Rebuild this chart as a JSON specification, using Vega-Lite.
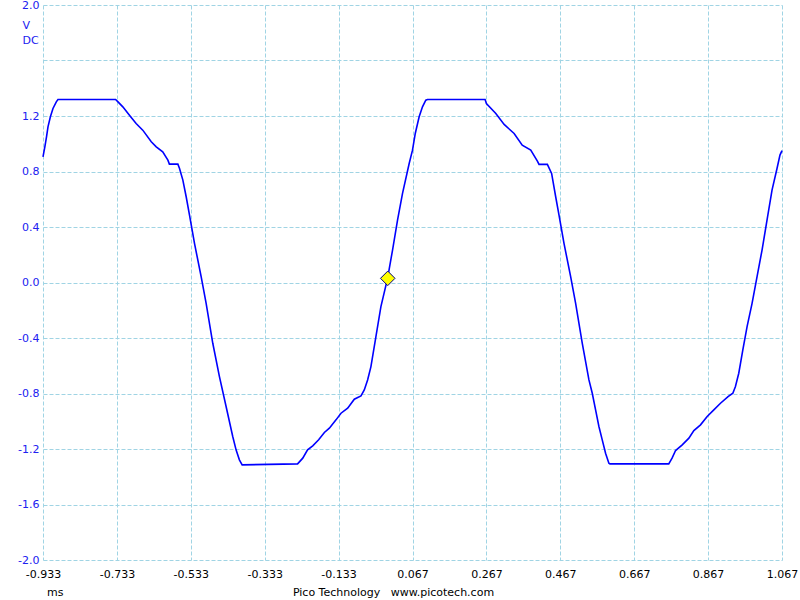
{
  "$schema": "https://vega.github.io/schema/vega-lite/v6.json",
  "width": 739,
  "height": 555,
  "autosize": "none",
  "padding": {"left": 43, "top": 5, "right": 18, "bottom": 40},
  "background": "white",
  "config": {"view": {"stroke": null}, "font": "DejaVu Sans"},
  "encoding": {
    "x": {
      "field": "t",
      "type": "quantitative",
      "scale": {"domain": [-0.933, 1.067], "nice": false, "zero": false},
      "axis": {
        "values": [-0.933, -0.733, -0.533, -0.333, -0.133, 0.067, 0.267, 0.467, 0.667, 0.867, 1.067],
        "grid": true,
        "gridColor": "#a0d4e4",
        "gridDash": [4, 2],
        "gridWidth": 1,
        "domain": false,
        "ticks": false,
        "tickSize": 0,
        "labelPadding": 8.5,
        "labelFont": "DejaVu Sans",
        "labelFontSize": 11,
        "labelColor": "#000000",
        "labelFlush": false,
        "labelOverlap": false,
        "labelExpr": "(datum.value < 0 ? '-' : '') + format(abs(datum.value), '.3f')",
        "title": "ms",
        "titleFont": "DejaVu Sans",
        "titleFontSize": 11,
        "titleFontWeight": "normal",
        "titleColor": "#000000",
        "titleX": 11.7,
        "titleY": 35,
        "titleAlign": "center",
        "titleBaseline": "alphabetic"
      }
    }
  },
  "layer": [
    {
      "data": {
        "values": [
          {"t": -0.933, "v": 0.905}, {"t": -0.928, "v": 0.978}, {"t": -0.9235, "v": 1.05}, {"t": -0.9195, "v": 1.122},
          {"t": -0.913, "v": 1.194}, {"t": -0.906, "v": 1.254}, {"t": -0.897, "v": 1.302}, {"t": -0.8925, "v": 1.319},
          {"t": -0.7365, "v": 1.319}, {"t": -0.73, "v": 1.302}, {"t": -0.717, "v": 1.266}, {"t": -0.699, "v": 1.206},
          {"t": -0.681, "v": 1.146}, {"t": -0.663, "v": 1.098}, {"t": -0.64, "v": 1.014}, {"t": -0.6265, "v": 0.978},
          {"t": -0.609, "v": 0.942}, {"t": -0.595, "v": 0.882}, {"t": -0.591, "v": 0.853}, {"t": -0.568, "v": 0.853},
          {"t": -0.5635, "v": 0.822}, {"t": -0.5545, "v": 0.738}, {"t": -0.5455, "v": 0.618}, {"t": -0.5365, "v": 0.486},
          {"t": -0.523, "v": 0.282}, {"t": -0.505, "v": 0.042}, {"t": -0.4915, "v": -0.15}, {"t": -0.4735, "v": -0.438},
          {"t": -0.4555, "v": -0.678}, {"t": -0.4375, "v": -0.894}, {"t": -0.4195, "v": -1.11}, {"t": -0.4105, "v": -1.206},
          {"t": -0.4015, "v": -1.278}, {"t": -0.394, "v": -1.314}, {"t": -0.244, "v": -1.307}, {"t": -0.23, "v": -1.266},
          {"t": -0.217, "v": -1.206}, {"t": -0.203, "v": -1.177}, {"t": -0.187, "v": -1.134}, {"t": -0.1715, "v": -1.081},
          {"t": -0.158, "v": -1.05}, {"t": -0.14, "v": -0.99}, {"t": -0.1265, "v": -0.942}, {"t": -0.1085, "v": -0.906},
          {"t": -0.0905, "v": -0.841}, {"t": -0.0725, "v": -0.817}, {"t": -0.0635, "v": -0.774}, {"t": -0.0545, "v": -0.702},
          {"t": -0.0455, "v": -0.606}, {"t": -0.032, "v": -0.39}, {"t": -0.0185, "v": -0.174}, {"t": -0.0005, "v": 0.03},
          {"t": 0.013, "v": 0.234}, {"t": 0.0265, "v": 0.45}, {"t": 0.04, "v": 0.642}, {"t": 0.058, "v": 0.858},
          {"t": 0.067, "v": 0.954}, {"t": 0.0745, "v": 1.074}, {"t": 0.085, "v": 1.194}, {"t": 0.094, "v": 1.266},
          {"t": 0.103, "v": 1.314}, {"t": 0.1075, "v": 1.319},
          {"t": 0.2635, "v": 1.319}, {"t": 0.267, "v": 1.29}, {"t": 0.2925, "v": 1.218}, {"t": 0.315, "v": 1.139},
          {"t": 0.342, "v": 1.074}, {"t": 0.364, "v": 0.99}, {"t": 0.387, "v": 0.954}, {"t": 0.405, "v": 0.875},
          {"t": 0.4095, "v": 0.851}, {"t": 0.432, "v": 0.851}, {"t": 0.4435, "v": 0.786}, {"t": 0.4545, "v": 0.618},
          {"t": 0.4635, "v": 0.486}, {"t": 0.477, "v": 0.282}, {"t": 0.495, "v": 0.042}, {"t": 0.5085, "v": -0.15},
          {"t": 0.5265, "v": -0.438}, {"t": 0.5445, "v": -0.702}, {"t": 0.5535, "v": -0.798}, {"t": 0.5625, "v": -0.918},
          {"t": 0.5715, "v": -1.038}, {"t": 0.5805, "v": -1.134}, {"t": 0.5895, "v": -1.23}, {"t": 0.5985, "v": -1.302},
          {"t": 0.6015, "v": -1.307}, {"t": 0.7605, "v": -1.307}, {"t": 0.7695, "v": -1.266}, {"t": 0.779, "v": -1.211},
          {"t": 0.797, "v": -1.17}, {"t": 0.815, "v": -1.122}, {"t": 0.8285, "v": -1.067}, {"t": 0.8465, "v": -1.026},
          {"t": 0.8645, "v": -0.966}, {"t": 0.8825, "v": -0.918}, {"t": 0.9005, "v": -0.87}, {"t": 0.921, "v": -0.822},
          {"t": 0.934, "v": -0.798}, {"t": 0.941, "v": -0.75}, {"t": 0.95, "v": -0.654}, {"t": 0.961, "v": -0.486},
          {"t": 0.9725, "v": -0.318}, {"t": 0.986, "v": -0.15}, {"t": 0.9995, "v": 0.042}, {"t": 1.013, "v": 0.234},
          {"t": 1.028, "v": 0.474}, {"t": 1.04, "v": 0.666}, {"t": 1.0535, "v": 0.822}, {"t": 1.0615, "v": 0.918},
          {"t": 1.067, "v": 0.95}
        ]
      },
      "mark": {"type": "line", "color": "#0000ff", "strokeWidth": 1.6},
      "encoding": {
        "y": {
          "field": "v",
          "type": "quantitative",
          "scale": {"domain": [-2, 2], "nice": false, "zero": false},
          "axis": {
            "values": [-2, -1.6, -1.2, -0.8, -0.4, 0, 0.4, 0.8, 1.2, 1.6, 2],
            "grid": true,
            "gridColor": "#a0d4e4",
            "gridDash": [4, 2],
            "gridWidth": 1,
            "domain": false,
            "ticks": false,
            "tickSize": 0,
            "labelPadding": 4,
            "labelFont": "DejaVu Sans",
            "labelFontSize": 11,
            "labelColor": "#2020f0",
            "labelBaseline": "middle",
            "labelFlush": false,
            "labelOverlap": false,
            "labelExpr": "abs(datum.value - 1.6) < 0.01 ? '' : (datum.value < 0 ? '-' : '') + format(abs(datum.value), '.1f')",
            "title": ["V", "DC"],
            "titleFont": "DejaVu Sans",
            "titleFontSize": 11,
            "titleFontWeight": "normal",
            "titleColor": "#2020f0",
            "titleAngle": 0,
            "titleAlign": "left",
            "titleBaseline": "alphabetic",
            "titleLineHeight": 15,
            "titleX": -21,
            "titleY": 23.3
          }
        }
      }
    },
    {
      "data": {"values": [{"t": 0, "v": 0.03}]},
      "mark": {"type": "point", "shape": "diamond", "filled": true, "fill": "#ffff00", "stroke": "#000080", "strokeWidth": 1, "size": 210, "opacity": 1},
      "encoding": {
        "y": {
          "field": "v",
          "type": "quantitative",
          "scale": {"domain": [-2, 2], "nice": false, "zero": false},
          "axis": {
            "orient": "right",
            "grid": false,
            "labels": false,
            "ticks": false,
            "tickSize": 0,
            "domain": false,
            "title": "Pico Technology\u00a0\u00a0\u00a0www.picotech.com",
            "titleFont": "DejaVu Sans",
            "titleFontSize": 11,
            "titleFontWeight": "normal",
            "titleColor": "#000000",
            "titleAngle": 0,
            "titleAlign": "center",
            "titleBaseline": "alphabetic",
            "titleX": -389,
            "titleY": 590
          }
        }
      }
    }
  ],
  "resolve": {"axis": {"y": "independent"}}
}
